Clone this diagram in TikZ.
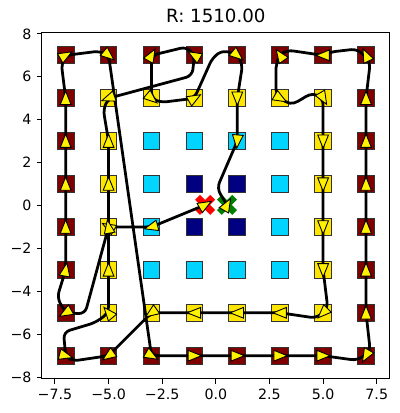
\documentclass[tikz,border=0pt]{standalone}
\usepackage{fontspec}
\setmainfont{DejaVu Sans}
\definecolor{ring0}{HTML}{800000}
\definecolor{ring1}{HTML}{FFE600}
\definecolor{ring2}{HTML}{00D4FF}
\definecolor{ring3}{HTML}{000080}
\definecolor{goalgreen}{HTML}{008000}
\tikzset{
  cell/.style={draw=black!80, line width=0.8pt, minimum size=0.468cm, inner sep=0pt},
  route/.style={line width=2.2pt, rounded corners=5pt, line join=round},
  headtri/.style={fill=yellow, draw=black, line width=0.7pt},
  axis/.style={line width=0.8pt},
  ticklab/.style={inner sep=0pt, font=\fontsize{11.3}{13}\selectfont}
}

\begin{document}
\begin{tikzpicture}[x=0.6cm, y=0.6cm]
\useasboundingbox (-10.06,-9.67) rectangle (8.55,9.58);
\foreach \i in {1,...,8}
  \foreach \j in {1,...,8}{
    \pgfmathtruncatemacro\ring{min(\i-1,8-\i,\j-1,8-\j)}
    \node[cell, fill=ring\ring] (c\i\j) at (2*\i-9,2*\j-9) {};
  }
\coordinate (start) at (-0.5,0.03);
\coordinate (goal) at (0.52,0.03);
\foreach \r in {45,-45}{
  \fill[red, shift={(start)}, rotate=\r] (-0.5,-0.16) rectangle (0.5,0.16);
  \fill[goalgreen, shift={(goal)}, rotate=\r] (-0.5,-0.16) rectangle (0.5,0.16);
}
\draw[route] (start) -- (c34.center) -- (c24.center) -- (-6.1,-5.05) -- (c12.center)
  -- (-7.4,-4.3) -- (c13.center) -- (c17.center) -- (-7.2,6.6) -- (c18.center)
  -- (-5.4,7.2) -- (c28.center) -- (c31.center) -- (c71.center) -- (6.6,-7.22)
  -- (7.2,-6.8) -- (c82.center) -- (c87.center) -- (7.2,6.7) -- (6.6,7.3)
  -- (5.3,7.15) -- (c78.center) -- (3.3,7.25) -- (c68.center) -- (2.8,6.6)
  -- (2.8,5.2) -- (c67.center) .. controls (3.8,4.5) and (4.2,5.4) .. (c77.center)
  -- (c73.center) -- (5.22,-4.8) -- (4.7,-5.25) -- (c62.center) -- (c32.center)
  -- (c21.center) -- (-6.7,-7.25) -- (c11.center) -- (-7.1,-5.9) -- (-5.6,-5.45)
  -- (c22.center) -- (c26.center) -- (-5.25,4.5) -- (c27.center) -- (-1.1,6.05)
  -- (c48.center) -- (-1.35,7.4) -- (c38.center) -- (c37.center) -- (-2.6,4.8)
  -- (c47.center) -- (-0.15,6.9) -- (0.35,7.25) -- (c58.center) -- (1.25,6.6)
  -- (c57.center) -- (c56.center) -- (0.05,0.8) -- (goal);
\foreach \n/\a in {start/30, c34/195, c24/150, c12/210, c13/80, c14/90, c15/90, c16/90,
    c17/90, c18/30, c28/-40, c31/-30, c41/0, c51/0, c61/0, c71/0, c81/240, c82/90,
    c83/90, c84/90, c85/90, c86/90, c87/90, c88/115, c78/180, c68/125, c67/-30,
    c77/-60, c76/-90, c75/-90, c74/-90, c73/-90, c72/225, c62/180, c52/180, c42/180,
    c32/215, c21/215, c11/-15, c22/130, c23/90, c24/100, c25/90, c26/90, c27/200,
    c48/150, c38/60, c37/-40, c47/30, c58/-40, c57/-90, c56/-95, goal/60}
  \filldraw[headtri, shift={(\n.center)}, rotate=\a] (0.33,0) -- (-0.29,0.25) -- (-0.29,-0.25) -- cycle;
\draw[axis] (-8.11,-8.08) rectangle (8.09,8.08);
\foreach \v/\l [count=\k] in {-7.5/−7.5,-5/−5.0,-2.5/−2.5,0/0.0,2.5/2.5,5/5.0,7.5/7.5}
  \draw[axis] (\v,-8.08) -- (\v,-8.31) node[ticklab, anchor=north, yshift=-3.9pt] (xt\k) {\l};
\foreach \v/\l [count=\k] in {-8/−8,-6/−6,-4/−4,-2/−2,0/0,2/2,4/4,6/6,8/8}
  \draw[axis] (-8.11,\v) -- (-8.34,\v) node[ticklab, anchor=east, xshift=-3.9pt] (yt\k) {\l};
\node[font=\fontsize{14.5}{17}\selectfont, anchor=base, inner sep=0pt] (title) at (0,8.51) {R: 1510.00};
\end{tikzpicture}
\end{document}
